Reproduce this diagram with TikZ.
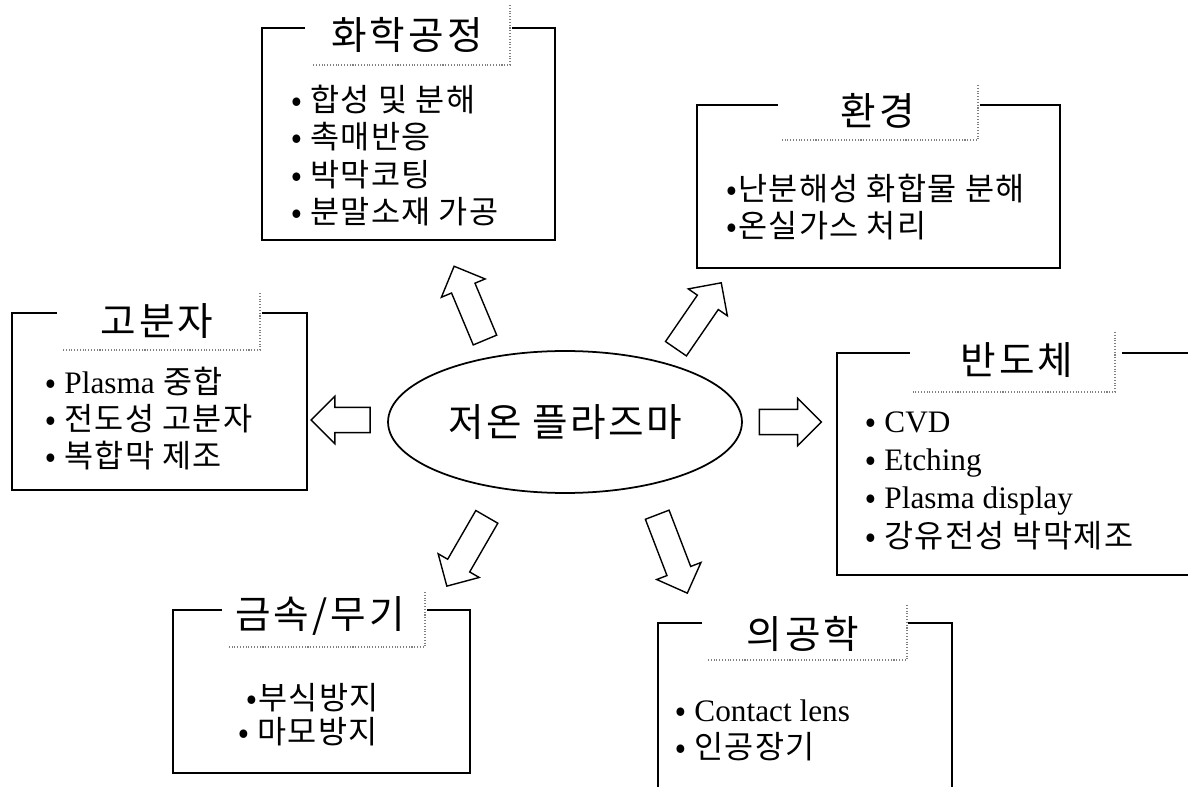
\documentclass[tikz,border=0pt]{standalone}
\usepackage{fontspec}
\setmainfont{Liberation Serif}
\newfontfamily\kor[LetterSpace=4]{Noto Sans CJK KR}
\newfontfamily\kortitle[LetterSpace=8]{Noto Sans CJK KR}
\newfontfamily\korbig[LetterSpace=6]{Noto Sans CJK KR}
\newcommand\lat[1]{{\rmfamily\fontsize{17.8}{21}\selectfont #1}}
\usetikzlibrary{shapes.geometric,shapes.arrows}

\begin{document}
\begin{tikzpicture}[x=0.02cm,y=-0.02cm,
  frame/.style={line width=1pt},
  shadowline/.style={gray,densely dotted,line width=0.6pt},
  title/.style={font=\kortitle\fontsize{22}{26}\selectfont,anchor=base,inner sep=0pt},
  item/.style={font=\kor\fontsize{18}{22}\selectfont,anchor=base west,inner sep=0pt},
  fatarrow/.style={draw,single arrow,single arrow head extend=0.22cm,
    inner xsep=0pt,inner ysep=0.24cm,minimum height=1.6cm,line width=0.8pt}]
\useasboundingbox (0,0) rectangle (1188,787);
\clip (0,0) rectangle (1188,787);

% centre
\node[draw,ellipse,line width=1pt,minimum width=7.08cm,minimum height=2.84cm,
  font=\korbig\fontsize{22}{26}\selectfont] (plasma) at (565,422) {저온 플라즈마};

\node[fatarrow,rotate=112.7] (toChem) at (472,309) {};
\node[fatarrow,rotate=55.5] (toEnv) at (695,321) {};
\node[fatarrow,rotate=180,minimum height=1.18cm] (toPoly) at (347,420) {};
\node[fatarrow,minimum height=1.24cm] (toSemi) at (784,422) {};
\node[fatarrow,rotate=240] (toMetal) at (470,546) {};
\node[fatarrow,rotate=-69,minimum height=1.68cm] (toMed) at (670,548) {};

% 화학공정
\draw[frame] (305,28)--(262,28)--(262,240)--(555,240)--(555,28)--(512,28);
\draw[shadowline] (510,5)--(510,65)--(312,65);
\node[title] (chem) at (407,50) {화학공정};
\foreach \t [count=\i] in {• 합성 및 분해, • 촉매반응, • 박막코팅, • 분말소재 가공}{
\node[item] (chem\i) at (291,74+37.5*\i) {\t};
}

% 환경
\draw[frame] (778,105)--(697,105)--(697,268)--(1060,268)--(1060,105)--(980,105);
\draw[shadowline] (978,85)--(978,140)--(780,140);
\node[title] (env) at (878,126) {환경};
\node[item] (env1) at (726,201) {•난분해성 화합물 분해};
\node[item] (env2) at (726,238) {•온실가스 처리};

% 고분자
\draw[frame] (57,313)--(12,313)--(12,490)--(307,490)--(307,313)--(262,313);
\draw[shadowline] (260,293)--(260,350)--(62,350);
\node[title] (poly) at (157,336) {고분자};
\node[item] (poly1) at (45,394) {• \lat{Plasma} 중합};
\node[item] (poly2) at (45,431) {• 전도성 고분자};
\node[item] (poly3) at (45,468) {• 복합막 제조};

% 반도체
\draw[frame] (910,353)--(837,353)--(837,575)--(1200,575);
\draw[frame] (1122,353)--(1200,353);
\draw[shadowline] (1115,332)--(1115,392)--(912,392);
\node[title] (semi) at (1017,375) {반도체};
\node[item] (semi1) at (865,433) {• \lat{CVD}};
\node[item] (semi2) at (865,471) {• \lat{Etching}};
\node[item] (semi3) at (865,509) {• \lat{Plasma display}};
\node[item] (semi4) at (865,547) {• 강유전성 박막제조};

% 금속/무기
\draw[frame] (222,610)--(173,610)--(173,773)--(470,773)--(470,610)--(427,610);
\draw[shadowline] (425,592)--(425,647)--(227,647);
\node[title] (metal) at (320,628) {금속/무기};
\node[item] (metal1) at (246,709) {•부식방지};
\node[item] (metal2) at (238,743) {• 마모방지};

% 의공학
\draw[frame] (702,623)--(658,623)--(658,800);
\draw[frame] (908,623)--(952,623)--(952,800);
\draw[shadowline] (907,605)--(907,660)--(708,660);
\node[title] (med) at (803,648) {의공학};
\node[item] (med1) at (675,721) {• \lat{Contact lens}};
\node[item] (med2) at (675,758) {• 인공장기};
\end{tikzpicture}
\end{document}
